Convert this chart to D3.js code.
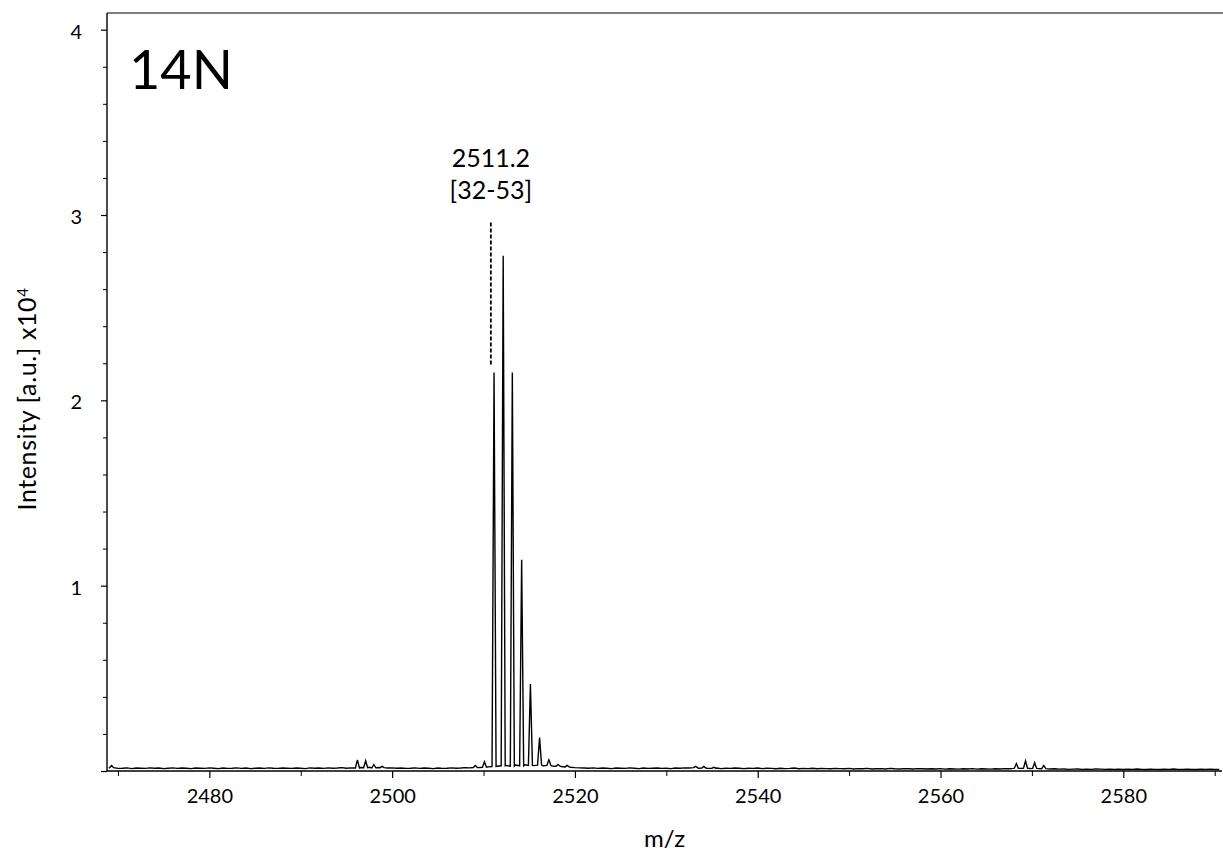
<!DOCTYPE html>
<html>
<head>
<meta charset="utf-8">
<script src="https://cdn.jsdelivr.net/npm/d3@7"></script>
<style>
  html, body { margin: 0; padding: 0; background: #fff; }
  svg { display: block; font-family: Lato, "Open Sans", sans-serif; }
  .tick text { fill: #000; }
</style>
</head>
<body>
<svg id="chart" width="1223" height="854"></svg>
<script>
/* MALDI spectrum, 14N sample */

// baseline noise, every 0.5 m/z from 2469.0, in 1e-3 x10^4 a.u.
const NOISE_START = 2469.0;
const NOISE_STEP = 0.5;
const NOISE = [
  16, 18, 14, 15, 17, 13, 16, 15, 14, 17, 15, 16, 13, 15, 17, 14, 16, 15, 13, 16,
  15, 14, 17, 15, 13, 16, 14, 15, 17, 14, 16, 13, 15, 16, 14, 17, 15, 14, 16, 15,
  14, 16, 15, 13, 17, 15, 16, 14, 17, 15, 16, 18, 15, 17, 16, 19, 18, 20, 17, 19,
  18, 16, 17, 15, 16, 14, 15, 17, 14, 16, 15, 13, 16, 14, 15, 17, 15, 16, 18, 17,
  19, 18, 20, 22, 24, 26, 28, 30, 26, 32, 28, 34, 30, 29, 32, 28, 30, 27, 26, 24,
  22, 20, 18, 17, 16, 15, 17, 14, 16, 15, 13, 16, 15, 14, 17, 15, 13, 16, 14, 15,
  16, 14, 15, 13, 16, 15, 17, 16, 18, 15, 16, 14, 15, 16, 13, 15, 14, 16, 15, 13,
  15, 14, 16, 13, 15, 14, 12, 15, 13, 14, 16, 12, 14, 13, 15, 12, 14, 13, 12, 14,
  13, 12, 14, 11, 13, 12, 14, 11, 12, 13, 11, 14, 12, 11, 13, 12, 11, 13, 12, 11,
  12, 11, 13, 10, 12, 11, 10, 12, 11, 13, 10, 12, 11, 10, 12, 11, 13, 12, 14, 15,
  14, 15, 13, 14, 12, 13, 11, 12, 10, 11, 9, 10, 11, 9, 10, 9, 11, 10, 9, 10,
  9, 10, 8, 10, 9, 11, 9, 8, 10, 9, 8, 10, 9, 11, 8, 9, 10, 9, 8, 10,
  9, 10, 9, 8,
];

// peak apexes
const PEAK_MZ = [
  2469.3, 2496.2, 2497.1, 2498.0, 2498.9, 2509.1, 2510.1,
  2511.15, 2512.15, 2513.15, 2514.17, 2515.13, 2516.13, 2517.15, 2518.15, 2519.15,
  2533.2, 2534.1, 2535.2, 2568.3, 2569.3, 2570.3, 2571.3,
];
const PEAK_HEIGHT = [
  0.03, 0.06, 0.055, 0.035, 0.025, 0.03, 0.05,
  2.15, 2.78, 2.15, 1.14, 0.47, 0.18, 0.06, 0.035, 0.03,
  0.025, 0.025, 0.02, 0.04, 0.055, 0.045, 0.03,
];

const X_MAJOR = [2480, 2500, 2520, 2540, 2560, 2580];
const X_MINOR = [2470, 2490, 2510, 2530, 2550, 2570, 2590];
const Y_MAJOR = [0, 1, 2, 3, 4];
const Y_MINOR = [0.2, 0.4, 0.6, 0.8, 1.2, 1.4, 1.6, 1.8, 2.2, 2.4, 2.6, 2.8, 3.2, 3.4, 3.6, 3.8];

const ANNOT_MZ = 2510.8;
const ANNOT_RANGE = [2.19, 2.96];
const ANNOT_LINES = ["2511.2", "[32-53]"];

const SAMPLE_LABEL = "14N";

const X_DOMAIN = [2468.8, 2590.8];
const Y_DOMAIN = [0, 4.09];

const FONT = "Lato, 'Open Sans', sans-serif";
const plot = { left: 107, top: 13, right: 1222, bottom: 771 };

function buildSpectrum() {
  const pts = [];
  const baseAt = (mz) => {
    const i = Math.max(0, Math.min(NOISE.length - 1, Math.round((mz - NOISE_START) / NOISE_STEP)));
    return NOISE[i] / 1000;
  };
  NOISE.forEach((v, i) => {
    const mz = NOISE_START + i * NOISE_STEP;
    if (!PEAK_MZ.some((p) => Math.abs(p - mz) < 0.25)) pts.push([mz, v / 1000]);
  });
  PEAK_MZ.forEach((mz, i) => {
    const b = baseAt(mz);
    pts.push([mz - 0.22, b], [mz, PEAK_HEIGHT[i]], [mz + 0.22, b]);
  });
  pts.sort((a, b) => a[0] - b[0]);
  return pts;
}

function render() {
  const svg = d3.select("#chart");

  const x = d3.scaleLinear().domain(X_DOMAIN).range([plot.left, plot.right]);
  const y = d3.scaleLinear().domain(Y_DOMAIN).range([plot.bottom, plot.top]);

  // minor ticks
  svg.append("g")
    .attr("transform", `translate(0,${plot.bottom})`)
    .call(d3.axisBottom(x).tickValues(X_MINOR).tickSize(5).tickSizeOuter(0).tickFormat(""))
    .call((g) => g.select(".domain").remove());

  svg.append("g")
    .attr("transform", `translate(${plot.left},0)`)
    .call(d3.axisLeft(y).tickValues(Y_MINOR).tickSize(4).tickSizeOuter(0).tickFormat(""))
    .call((g) => g.select(".domain").remove());

  // major ticks
  const xAxis = svg.append("g")
    .attr("transform", `translate(0,${plot.bottom})`)
    .call(d3.axisBottom(x).tickValues(X_MAJOR).tickSize(7).tickSizeOuter(0).tickFormat(d3.format("d")))
    .call((g) => g.select(".domain").remove())
    .attr("font-family", FONT)
    .attr("font-size", 20);
  xAxis.selectAll(".tick line").attr("stroke-width", 1.2);
  xAxis.selectAll(".tick text").attr("y", 32).attr("dy", 0);

  const yAxis = svg.append("g")
    .attr("transform", `translate(${plot.left},0)`)
    .call(d3.axisLeft(y).tickValues(Y_MAJOR).tickSize(6).tickSizeOuter(0)
      .tickFormat((d) => (d === 0 ? "" : d)))
    .call((g) => g.select(".domain").remove())
    .attr("font-family", FONT)
    .attr("font-size", 20);
  yAxis.selectAll(".tick line").attr("stroke-width", 1.2);
  yAxis.selectAll(".tick text").attr("x", -25).attr("dy", "0.42em");

  // frame
  svg.append("line")
    .attr("x1", plot.left).attr("x2", 1223)
    .attr("y1", plot.top).attr("y2", plot.top)
    .attr("stroke", "#555").attr("stroke-width", 1.5);
  svg.append("line")
    .attr("x1", plot.left).attr("x2", plot.left)
    .attr("y1", plot.top).attr("y2", plot.bottom)
    .attr("stroke", "#000").attr("stroke-width", 1.4);
  svg.append("line")
    .attr("x1", plot.left).attr("x2", plot.right)
    .attr("y1", plot.bottom).attr("y2", plot.bottom)
    .attr("stroke", "#000").attr("stroke-width", 1.4);

  // spectrum
  const line = d3.line().x((d) => x(d[0])).y((d) => y(d[1]));
  svg.append("path")
    .datum(buildSpectrum())
    .attr("d", line)
    .attr("fill", "none")
    .attr("stroke", "#000")
    .attr("stroke-width", 1.4)
    .attr("stroke-linejoin", "miter");

  // annotation
  svg.append("line")
    .attr("x1", x(ANNOT_MZ)).attr("x2", x(ANNOT_MZ))
    .attr("y1", y(ANNOT_RANGE[1])).attr("y2", y(ANNOT_RANGE[0]))
    .attr("stroke", "#000").attr("stroke-width", 1.8)
    .attr("stroke-dasharray", "4,2");

  svg.append("g")
    .selectAll("text")
    .data(ANNOT_LINES)
    .join("text")
    .attr("x", x(ANNOT_MZ))
    .attr("y", (d, i) => 167 + i * 32)
    .attr("text-anchor", "middle")
    .style("font-size", "25px")
    .text((d) => d);

  // sample label
  svg.append("text")
    .attr("x", 129).attr("y", 89)
    .style("font-size", "54px")
    .text(SAMPLE_LABEL);

  // axis titles
  svg.append("text")
    .attr("x", (plot.left + plot.right) / 2).attr("y", 847)
    .attr("text-anchor", "middle")
    .style("font-size", "24px")
    .text("m/z");

  const yTitle = svg.append("text")
    .attr("transform", "translate(36,399) rotate(-90)")
    .attr("text-anchor", "middle")
    .style("font-size", "25px")
    .style("letter-spacing", "0.6px");
  yTitle.append("tspan").text("Intensity [a.u.] x10");
  yTitle.append("tspan").attr("dy", "-0.55em").style("font-size", "15px").text("4");
}

document.addEventListener("DOMContentLoaded", render);
</script>
</body>
</html>
